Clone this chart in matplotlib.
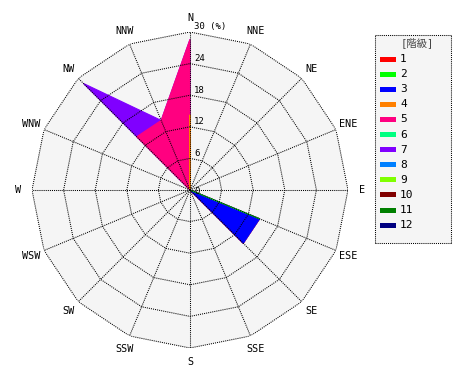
import numpy as np
import matplotlib
matplotlib.use('Agg')
import matplotlib.pyplot as plt
from matplotlib.patches import Rectangle

# 風向 (N から時計回り)
directions = ['N', 'NNE', 'NE', 'ENE', 'E', 'ESE', 'SE', 'SSE',
              'S', 'SSW', 'SW', 'WSW', 'W', 'WNW', 'NW', 'NNW']
classes = ['1', '2', '3', '4', '5', '6', '7', '8', '9', '10', '11', '12']
colors = ['#ff0000', '#00ff00', '#0000ff', '#ff8000', '#ff0080', '#00ff80',
          '#8000ff', '#0080ff', '#80ff00', '#800000', '#008000', '#000080']

# 階級ごとの出現率 (%)
#         N     NNE NE ENE E  ESE   SE    SSE S SSW SW WSW W WNW NW    NNW
c1  = [0,    0, 0, 0, 0, 0,    0,    0, 0, 0, 0, 0, 0, 0, 0,    0]
c2  = [0,    0, 0, 0, 0, 14.3, 0,    0, 0, 0, 0, 0, 0, 0, 0,    0]
c3  = [0,    0, 0, 0, 0, 0,    14.3, 0, 0, 0, 0, 0, 0, 0, 0,    0]
c4  = [14.3, 0, 0, 0, 0, 0,    0,    0, 0, 0, 0, 0, 0, 0, 0,    0]
c5  = [14.3, 0, 0, 0, 0, 0,    0,    0, 0, 0, 0, 0, 0, 0, 14.3, 14.3]
c6  = [0,    0, 0, 0, 0, 0,    0,    0, 0, 0, 0, 0, 0, 0, 0,    0]
c7  = [0,    0, 0, 0, 0, 0,    0,    0, 0, 0, 0, 0, 0, 0, 14.3, 0]
c8  = [0,    0, 0, 0, 0, 0,    0,    0, 0, 0, 0, 0, 0, 0, 0,    0]
c9  = [0,    0, 0, 0, 0, 0,    0,    0, 0, 0, 0, 0, 0, 0, 0,    0]
c10 = [0,    0, 0, 0, 0, 0,    0,    0, 0, 0, 0, 0, 0, 0, 0,    0]
c11 = [0,    0, 0, 0, 0, 0,    0,    0, 0, 0, 0, 0, 0, 0, 0,    0]
c12 = [0,    0, 0, 0, 0, 0,    0,    0, 0, 0, 0, 0, 0, 0, 0,    0]
freq = np.array([c1, c2, c3, c4, c5, c6, c7, c8, c9, c10, c11, c12])

ring_ticks = [6, 12, 18, 24, 30]
rmax = 30

font = ['DejaVu Sans Mono', 'Noto Sans CJK JP']
dots = (0, (1, 1))

theta = np.radians(np.arange(len(directions)) * 360.0 / len(directions))
theta_c = np.append(theta, theta[0])

fig = plt.figure(figsize=(4.7, 3.8), dpi=100)
ax = fig.add_axes([32 / 470, 32 / 380, 316 / 470, 316 / 380], projection='polar')
ax.set_theta_zero_location('N')
ax.set_theta_direction(-1)
ax.set_ylim(0, rmax)
ax.set_axis_off()

# 背景 (16角形)
ax.fill(theta_c, [rmax] * len(theta_c), color='#f5f5f5', lw=0, zorder=0)

# 累積した多角形を大きい方から描く
cum = np.cumsum(freq, axis=0)
for k in range(len(classes) - 1, -1, -1):
    if freq[k].sum() == 0:
        continue
    r = np.append(cum[k], cum[k][0])
    ax.fill(theta_c, r, facecolor=colors[k], edgecolor=colors[k], lw=0.8, zorder=2)

# グリッド
for rr in ring_ticks:
    ax.plot(theta_c, [rr] * len(theta_c), color='k', lw=0.75, ls=dots,
            dash_capstyle='butt', zorder=3)
for t in theta:
    ax.plot([t, t], [0, rmax], color='k', lw=0.75, ls=dots,
            dash_capstyle='butt', zorder=3)

# 目盛ラベル
for rr in ring_ticks:
    lab = str(rr) if rr != rmax else '30 (%)'
    ax.annotate(lab, xy=(0, rr), xytext=(3, 0.5), textcoords='offset points',
                ha='left', va='bottom', fontsize=6.5, family=font, zorder=4)
ax.annotate('0', xy=(0, 0), xytext=(3, -1), textcoords='offset points',
            ha='left', va='center', fontsize=6.5, family=font, zorder=4)

# 方位ラベル
for t, d in zip(theta, directions):
    ax.text(t, 32.6, d, ha='center', va='center', fontsize=7.3, family=font)

# 凡例
lx, ly, lw_, lh = 375, 35, 76, 208
leg = fig.add_axes([lx / 470, 1 - (ly + lh) / 380, lw_ / 470, lh / 380])
leg.set_xlim(0, lw_)
leg.set_ylim(lh, 0)
leg.set_xticks([])
leg.set_yticks([])
leg.set_facecolor('#f5f5f5')
for s in leg.spines.values():
    s.set_linestyle(dots)
    s.set_linewidth(0.75)
    s.set_capstyle('butt')
leg.text(lw_ / 2 + 4, 8, '[階級]', ha='center', va='center', fontsize=7.5,
         family=font, color='#444444')
for i, (c, col) in enumerate(zip(classes, colors)):
    y = 24 + 15.1 * i
    leg.add_patch(Rectangle((5, y - 2.5), 16, 5, facecolor=col, edgecolor='none'))
    leg.text(25, y, c, ha='left', va='center', fontsize=8, family=font)

fig.savefig('out.png', dpi=100)
